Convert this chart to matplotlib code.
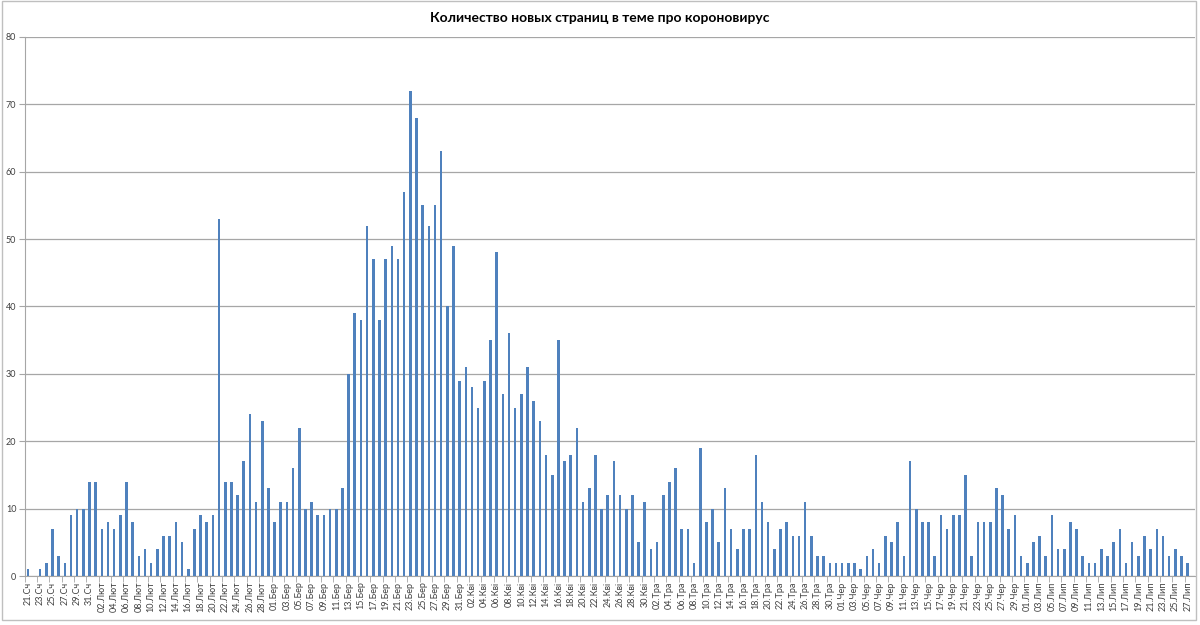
import numpy as np
import matplotlib.pyplot as plt
from matplotlib.patches import Rectangle

plt.rcParams['font.family'] = ['Lato', 'DejaVu Sans']

# кількість нових сторінок за день, 21 січня - 27 липня 2020
jan = [1, 0, 1, 2, 7, 3, 2, 9, 10, 10, 14]
feb = [14, 7, 8, 7, 9, 14, 8, 3, 4, 2, 4, 6, 6, 8, 5, 1, 7, 9, 8, 9,
       53, 14, 14, 12, 17, 24, 11, 23, 13]
mar = [8, 11, 11, 16, 22, 10, 11, 9, 9, 10, 10, 13, 30, 39, 38, 52, 47,
       38, 47, 49, 47, 57, 72, 68, 55, 52, 55, 63, 40, 49, 29]
apr = [31, 28, 25, 29, 35, 48, 27, 36, 25, 27, 31, 26, 23, 18, 15, 35,
       17, 18, 22, 11, 13, 18, 10, 12, 17, 12, 10, 12, 5, 11]
may = [4, 5, 12, 14, 16, 7, 7, 2, 19, 8, 10, 5, 13, 7, 4, 7, 7, 18, 11,
       8, 4, 7, 8, 6, 6, 11, 6, 3, 3, 2, 2]
jun = [2, 2, 2, 1, 3, 4, 2, 6, 5, 8, 3, 17, 10, 8, 8, 3, 9, 7, 9, 9, 15,
       3, 8, 8, 8, 13, 12, 7, 9, 3]
jul = [2, 5, 6, 3, 9, 4, 4, 8, 7, 3, 2, 2, 4, 3, 5, 7, 2, 5, 3, 6, 4, 7,
       6, 3, 4, 3, 2]

months = [('Сч', 21, jan), ('Лют', 1, feb), ('Бер', 1, mar), ('Кві', 1, apr),
          ('Тра', 1, may), ('Чер', 1, jun), ('Лип', 1, jul)]

values = []
labels = []
for name, first, vals in months:
    for k, v in enumerate(vals):
        values.append(v)
        labels.append('%02d.%s' % (first + k, name))

x = np.arange(len(values))

fig = plt.figure(figsize=(12, 6.25), dpi=100)
ax = fig.add_axes([0.0206, 0.0784, 0.9753, 0.8627])

ax.bar(x, values, width=0.42, color='#4F81BD', zorder=3)

ax.set_xlim(-0.49, len(values) + 0.2)
ax.set_ylim(0, 80)
ax.set_yticks(np.arange(0, 81, 10))
ax.yaxis.grid(True, color='#A6A6A6', linewidth=0.9, zorder=0)

ax.set_xticks(x[::2])
ax.set_xticklabels(labels[::2], rotation=90, fontsize=6.5, color='#404040')
ax.set_xticks(np.arange(-0.5, len(values), 2), minor=True)
ax.tick_params(axis='x', which='major', length=0, pad=4)
ax.tick_params(axis='x', which='minor', length=4, color='#A6A6A6')
ax.tick_params(axis='y', labelsize=6.5, labelcolor='#404040', length=4,
               color='#A6A6A6', pad=2)

for side in ['top', 'right']:
    ax.spines[side].set_visible(False)
for side in ['left', 'bottom']:
    ax.spines[side].set_color('#A6A6A6')

fig.text(0.5, 0.972, 'Количество новых страниц в теме про короновирус',
         ha='center', va='center', fontsize=10, fontweight='bold')

fig.patches.append(Rectangle((0.002, 0.008), 0.995, 0.99, transform=fig.transFigure,
                             fill=False, edgecolor='#BFBFBF', linewidth=1))

fig.savefig('out.png', dpi=100)
